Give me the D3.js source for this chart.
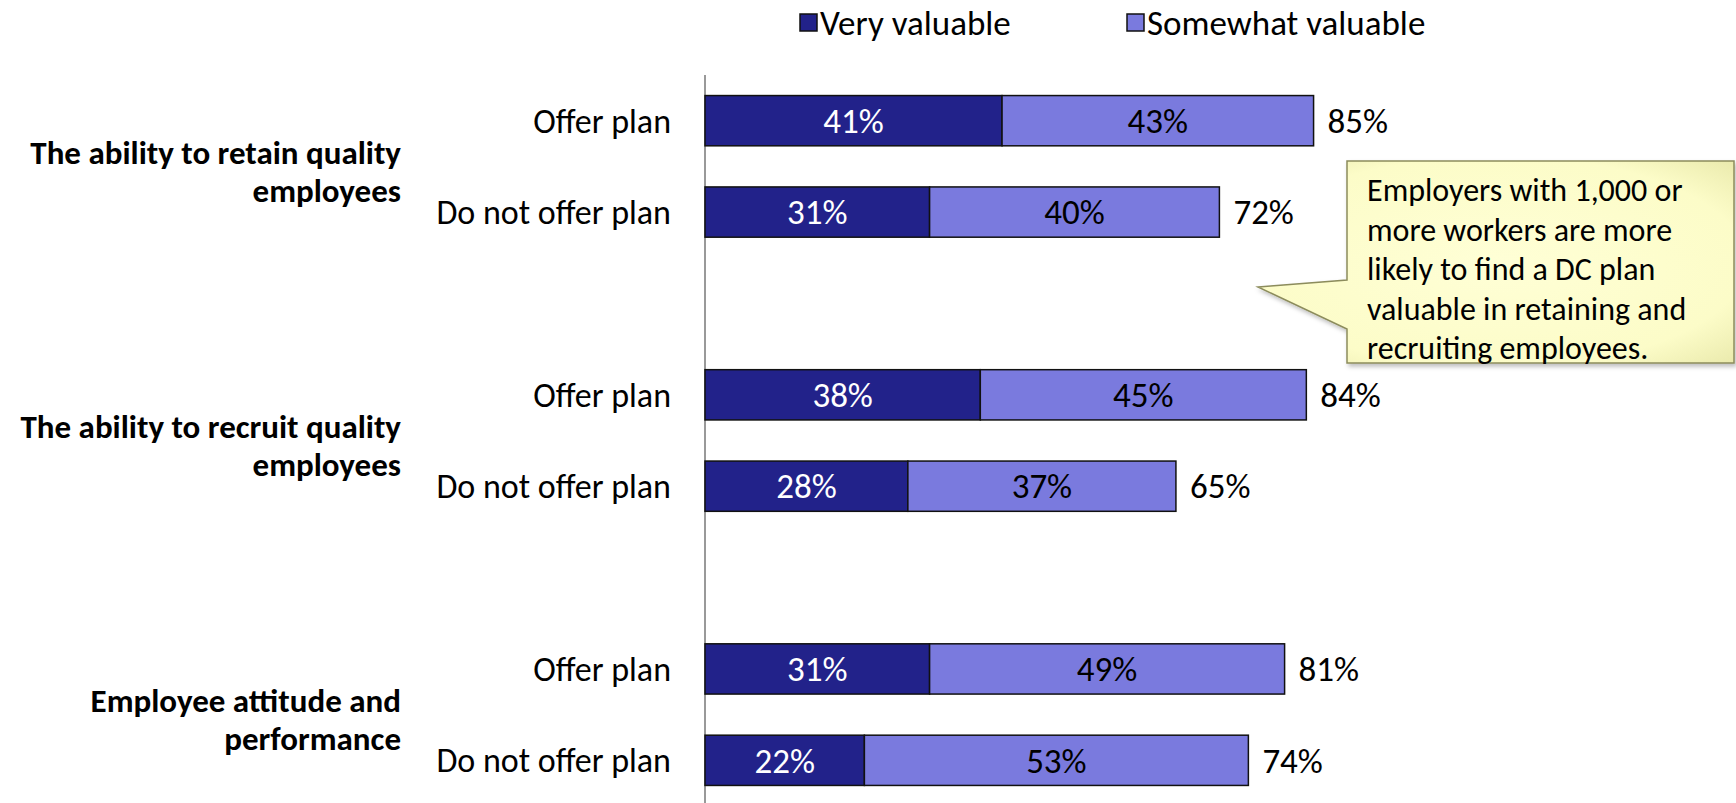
<!DOCTYPE html>
<html>
<head>
<meta charset="utf-8">
<script src="https://cdn.jsdelivr.net/npm/d3@7"></script>
<style>
  html, body { margin: 0; padding: 0; background: #fff; }
  svg { display: block; font-family: Carlito, Calibri, Lato, sans-serif; }
</style>
</head>
<body>
<svg id="chart" width="1736" height="803"></svg>
<script>
// ---- data ----
const groups = ["The ability to retain quality employees", "The ability to recruit quality employees", "Employee attitude and performance"];
const groupLines = [["The ability to retain quality", "employees"], ["The ability to recruit quality", "employees"], ["Employee attitude and", "performance"]];
const subLabels = ["Offer plan", "Do not offer plan"];
const seriesNames = ["Very valuable", "Somewhat valuable"];
const veryValues = [41, 31, 38, 28, 31, 22];
const somewhatValues = [43, 40, 45, 37, 49, 53];
const totalLabels = ["85%", "72%", "84%", "65%", "81%", "74%"];
const calloutLines = ["Employers with 1,000 or", "more workers are more", "likely to find a DC plan", "valuable in retaining and", "recruiting employees."];

const colors = ["#22228a", "#7a7ade"];

// ---- build rows ----
const rows = [];
const domainKeys = [];
groups.forEach((g, gi) => {
  subLabels.forEach((s, si) => {
    const i = gi * subLabels.length + si;
    const key = gi + "-" + si;
    domainKeys.push(key);
    rows.push({ key, group: gi, label: s, very: veryValues[i], some: somewhatValues[i], total: totalLabels[i] });
  });
  if (gi < groups.length - 1) domainKeys.push(gi + "-gap");
});

const svg = d3.select("#chart");
const x = d3.scaleLinear().domain([0, 100]).range([705, 705 + 724.5]);
const y = d3.scaleBand().domain(domainKeys).range([75, 806]).paddingInner(0.45).paddingOuter(0.225);

// axis line
const axis = d3.axisLeft(y).tickSize(0).tickFormat("");
svg.append("g").attr("transform", `translate(${x(0)},0)`).call(axis)
  .call(g => g.select(".domain").attr("stroke", "#999").attr("stroke-width", 2).attr("d", `M0,75V803`))
  .call(g => g.selectAll(".tick").remove());

// bars
const barG = svg.append("g");
rows.forEach(r => {
  const segs = [
    { x0: 0, x1: r.very, v: r.very, c: colors[0], tc: "#fff" },
    { x0: r.very, x1: r.very + r.some, v: r.some, c: colors[1], tc: "#000" }
  ];
  segs.forEach(s => {
    barG.append("rect")
      .attr("x", x(s.x0)).attr("y", y(r.key))
      .attr("width", x(s.x1) - x(s.x0)).attr("height", y.bandwidth())
      .attr("fill", s.c).attr("stroke", "#111").attr("stroke-width", 1.5);
    barG.append("text")
      .attr("x", (x(s.x0) + x(s.x1)) / 2).attr("y", y(r.key) + y.bandwidth() / 2)
      .attr("dy", "0.35em").attr("text-anchor", "middle")
      .attr("font-size", 35).attr("fill", s.tc).text(s.v + "%");
  });
  barG.append("text")
    .attr("x", x(r.very + r.some) + 14).attr("y", y(r.key) + y.bandwidth() / 2)
    .attr("dy", "0.35em").attr("font-size", 35).attr("fill", "#000").text(r.total);
  // sub label
  barG.append("text")
    .attr("x", 671).attr("y", y(r.key) + y.bandwidth() / 2)
    .attr("dy", "0.35em").attr("text-anchor", "end")
    .attr("font-size", 34).attr("fill", "#000").text(r.label);
});

// group labels
groupLines.forEach((lines, gi) => {
  const k0 = gi + "-0", k1 = gi + "-1";
  const cy = (y(k0) + y(k1) + y.bandwidth()) / 2 + 5;
  const t = svg.append("text").attr("text-anchor", "end").attr("font-size", 33)
    .attr("font-weight", "bold").attr("fill", "#000");
  lines.forEach((ln, li) => {
    t.append("tspan").attr("x", 401)
      .attr("y", cy + (li - (lines.length - 1) / 2) * 38)
      .attr("dy", "0.35em").text(ln);
  });
});

// legend
const legendX = [800, 1127];
seriesNames.forEach((n, i) => {
  svg.append("rect").attr("x", legendX[i]).attr("y", 14).attr("width", 17).attr("height", 17)
    .attr("fill", colors[i]).attr("stroke", "#111").attr("stroke-width", 1.5);
  svg.append("text").attr("x", legendX[i] + 20).attr("y", 23).attr("dy", "0.35em")
    .attr("font-size", 35).attr("fill", "#000").text(n);
});

// callout
const defs = svg.append("defs");
const grad = defs.append("radialGradient").attr("id", "cg").attr("cx", "50%").attr("cy", "50%").attr("r", "75%");
grad.append("stop").attr("offset", "0%").attr("stop-color", "#ffffd6");
grad.append("stop").attr("offset", "70%").attr("stop-color", "#fcfcc8");
grad.append("stop").attr("offset", "100%").attr("stop-color", "#e6e6a6");
const filt = defs.append("filter").attr("id", "sh").attr("x", "-10%").attr("y", "-10%").attr("width", "120%").attr("height", "130%");
filt.append("feDropShadow").attr("dx", 2).attr("dy", 3).attr("stdDeviation", 2).attr("flood-color", "#000").attr("flood-opacity", 0.25);

const bx0 = 1347, by0 = 161, bx1 = 1734, by1 = 363;
const path = `M${bx0},${by0} L${bx1},${by0} L${bx1},${by1} L${bx0},${by1} L${bx0},329 L1258,287 L${bx0},280 Z`;
svg.append("path").attr("d", path).attr("fill", "url(#cg)")
  .attr("stroke", "#8c8c5c").attr("stroke-width", 1.5).attr("filter", "url(#sh)");
const ct = svg.append("text").attr("font-size", 32).attr("fill", "#000");
calloutLines.forEach((ln, i) => {
  ct.append("tspan").attr("x", 1367).attr("y", 190 + i * 39.5).attr("dy", "0.35em").text(ln);
});
</script>
</body>
</html>
